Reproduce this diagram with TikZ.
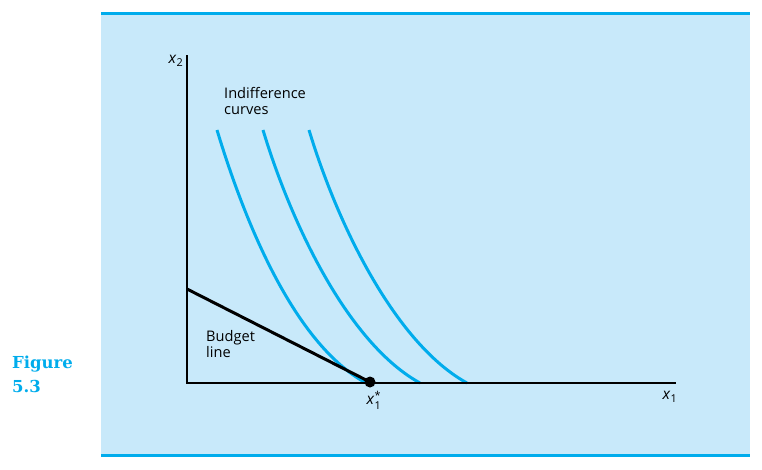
\documentclass[tikz,border=0pt]{standalone}
\usepackage{amsmath}
\usepackage{fontspec}
\setmainfont{Open Sans}
\newfontfamily\figfont{DejaVu Serif}
\definecolor{panelblue}{RGB}{200,233,250}
\definecolor{curveblue}{RGB}{0,172,236}
\newcommand{\xvar}[1]{\textit{x}$_{\textup{#1}}$}
\newcommand{\xopt}{\textit{x}$_{\textup{1}}^{\textup{*}}$}

\begin{document}
\begin{tikzpicture}[x=1pt,y=-1pt,
  lbl/.style={inner sep=0pt,align=left,font=\fontsize{14.6}{16}\selectfont},
  varlbl/.style={inner sep=0pt,font=\fontsize{15.5}{17}\selectfont},
  icurve/.style={draw=curveblue,line width=3pt},
  axisline/.style={line width=2pt},
  budget/.style={line width=3pt}]
\useasboundingbox (0,0) rectangle (762,469);
\fill[panelblue] (101,15) rectangle (750,455);
\draw[curveblue,line width=3.5pt] (101,13.5) -- (750,13.5);
\draw[curveblue,line width=2.5pt] (101,455.5) -- (750,455.5);

\coordinate (o) at (187,383);
\coordinate (ytop) at (187,55);
\coordinate (xend) at (676,383);
\coordinate (bstart) at (187,289);

\foreach \a/\b in {217/366, 263/420, 309/467}
  \draw[icurve] (\a,130) .. controls (\a+30,229) and (\b-70,344.5) .. (\b,383);

\draw[axisline] (ytop) -- (o) -- (xend);
\node[circle,fill=black,inner sep=0pt,minimum size=11pt] (opt) at (370,382) {};
\draw[budget] (bstart) -- (opt.center);

\node[varlbl] (x2) at (176,61) {\xvar{2}};
\node[varlbl] (x1) at (670,397) {\xvar{1}};
\node[varlbl] (x1s) at (374,400) {\xopt};
\node[lbl,anchor=base west] (ic) at (224,114) {Indifference\\curves};
\node[lbl,anchor=base west] (bl) at (206,357) {Budget\\line};
\node[anchor=base west,inner sep=0pt,align=left,text=curveblue,
  font=\figfont\bfseries\fontsize{16.5}{24}\selectfont] (fig) at (12,392) {Figure\\5.3};
\end{tikzpicture}
\end{document}
